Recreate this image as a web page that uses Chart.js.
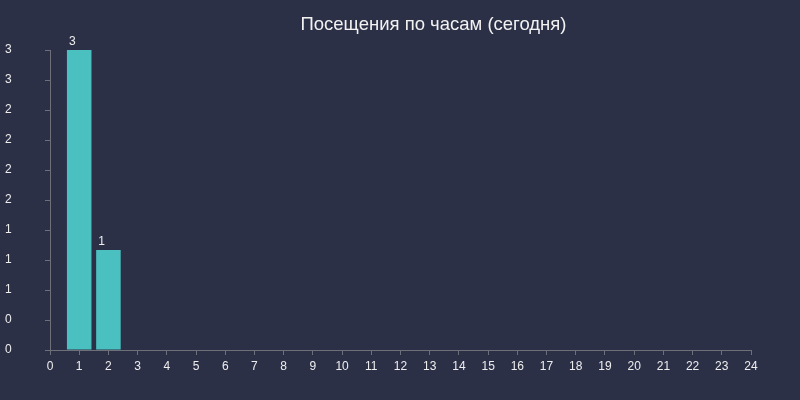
<!DOCTYPE html>
<html>
<head>
<meta charset="utf-8">
<script src="https://cdn.jsdelivr.net/npm/chart.js@4.4.0/dist/chart.umd.min.js"></script>
<style>
  html, body { margin: 0; padding: 0; background: #2c3047; }
  #wrap { width: 800px; height: 400px; position: relative; }
</style>
</head>
<body>
<div id="wrap"><canvas id="chart"></canvas></div>
<script>
// Visits per hour (today)
const chartTitle = 'Посещения по часам (сегодня)';
const hours = ['0', '1', '2', '3', '4', '5', '6', '7', '8', '9', '10', '11', '12',
               '13', '14', '15', '16', '17', '18', '19', '20', '21', '22', '23', '24'];
const visits = [0, 3, 1, 0, 0, 0, 0, 0, 0, 0, 0, 0, 0,
                0, 0, 0, 0, 0, 0, 0, 0, 0, 0, 0, 0];
const yTicks = [0, 0.3, 0.6, 0.9, 1.2, 1.5, 1.8, 2.1, 2.4, 2.7, 3];

const textColor = '#eeeeee';
const axisColor = '#6e7079';
const barColor = '#4bc0c0';
const fontFamily = '"Liberation Sans", Arial, sans-serif';

// title + value labels above the bars
const overlay = {
    id: 'overlay',
    afterDatasetsDraw(chart) {
        const ctx = chart.ctx;
        ctx.save();
        ctx.fillStyle = textColor;
        ctx.font = '12px ' + fontFamily;
        ctx.textAlign = 'left';
        ctx.textBaseline = 'alphabetic';
        chart.getDatasetMeta(0).data.forEach((bar, i) => {
            if (visits[i] > 0) ctx.fillText(String(visits[i]), bar.x - bar.width / 2 + 2, bar.y - 5);
        });
        ctx.font = '18.5px ' + fontFamily;
        ctx.textAlign = 'center';
        ctx.fillStyle = '#f2f2f2';
        ctx.fillText(chartTitle, 433.5, 30);
        ctx.restore();
    }
};

new Chart(document.getElementById('chart'), {
    type: 'bar',
    data: {
        labels: hours,
        datasets: [{
            data: visits,
            backgroundColor: barColor,
            borderWidth: 0,
            categoryPercentage: 1,
            barPercentage: 0.84
        }]
    },
    options: {
        responsive: true,
        maintainAspectRatio: false,
        animation: false,
        layout: { padding: { top: 50, right: 49, left: 5, bottom: 0 } },
        plugins: {
            legend: { display: false },
            tooltip: { enabled: false },
            title: { display: false }
        },
        scales: {
            x: {
                offset: false,
                grid: { display: true, drawOnChartArea: false, drawTicks: true, tickLength: 5, color: axisColor, offset: false },
                border: { display: true, color: axisColor },
                ticks: { color: textColor, font: { size: 12, family: fontFamily }, padding: 4, maxRotation: 0, autoSkip: false },
                afterFit(scale) { scale.height = 50; }
            },
            y: {
                min: 0,
                max: 3,
                grid: { display: true, drawOnChartArea: false, drawTicks: true, tickLength: 5, color: axisColor },
                border: { display: true, color: axisColor },
                ticks: {
                    color: textColor,
                    font: { size: 12, family: fontFamily },
                    crossAlign: 'far',
                    callback: (v) => String(Math.round(v))
                },
                afterBuildTicks(scale) { scale.ticks = yTicks.map(v => ({ value: v })); },
                afterFit(scale) { scale.width = 45; }
            }
        }
    },
    plugins: [overlay]
});
</script>
</body>
</html>
